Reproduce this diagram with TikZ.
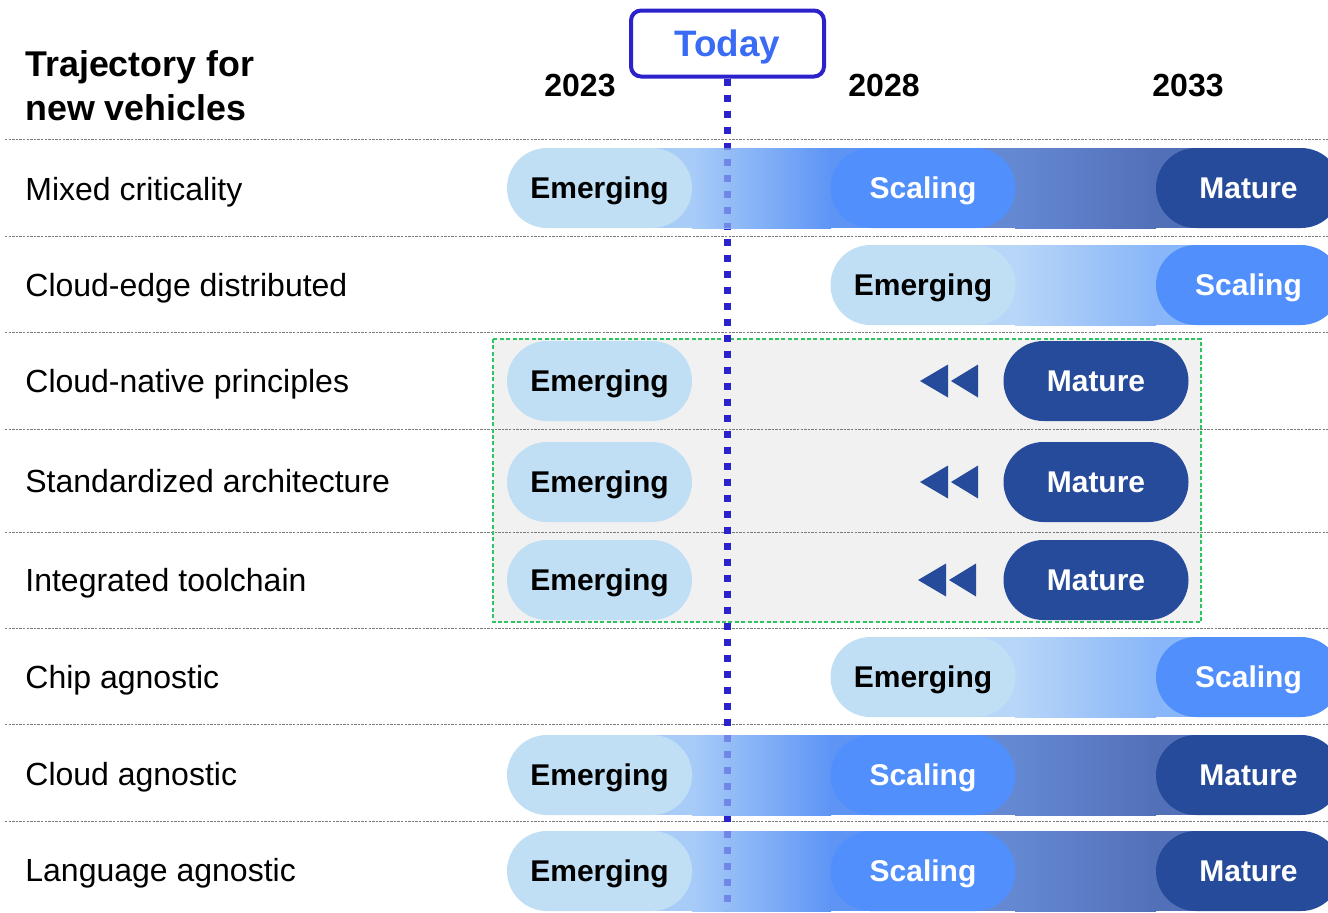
\documentclass[tikz,border=0pt]{standalone}
\usepackage{fontspec}
\setmainfont{Liberation Sans}
\definecolor{emfill}{HTML}{C0DFF5}
\definecolor{scfill}{HTML}{5190FC}
\definecolor{mafill}{HTML}{264B9A}
\definecolor{todayc}{HTML}{2B22CC}
\definecolor{todayt}{HTML}{3A6BF5}
\definecolor{sepc}{HTML}{7A7A7A}
\definecolor{boxg}{HTML}{2EC462}
\definecolor{boxfill}{HTML}{F1F1F1}
\definecolor{bandA}{HTML}{A8CCF8}
\definecolor{bandB}{HTML}{5E95F5}
\definecolor{bandC}{HTML}{6588D3}
\definecolor{bandD}{HTML}{5270B8}
\definecolor{bandE}{HTML}{B8D6F8}
\definecolor{bandF}{HTML}{88B6F8}
\tikzset{
  sepline/.style={draw=sepc, line width=0.5pt, dash pattern=on 1.2pt off 0.6pt},
  rowlabel/.style={anchor=west, inner sep=0pt, font=\fontsize{16}{19}\selectfont, text height=11.5pt, text depth=0pt},
  titletext/.style={anchor=base west, inner sep=0pt, font=\bfseries\fontsize{17.9}{21}\selectfont},
  yeartext/.style={inner sep=0pt, font=\bfseries\fontsize{16}{19}\selectfont, text height=11.5pt, text depth=0pt},
  pill/.style={minimum width=92.5pt, minimum height=40pt, rounded corners=20pt, inner sep=0pt,
    font=\bfseries\fontsize{15}{18}\selectfont, text height=10.7pt, text depth=0pt},
  emerging/.style={pill, fill=emfill, text=black},
  scaling/.style={pill, fill=scfill, text=white},
  mature/.style={pill, fill=mafill, text=white},
  todaybox/.style={draw=todayc, line width=2pt, rounded corners=5pt, fill=white,
    minimum width=96.5pt, minimum height=33pt, inner sep=0pt, text=todayt,
    text height=13pt, text depth=0pt,
    font=\bfseries\fontsize{18.4}{21}\selectfont},
  todayline/.style={draw=todayc, line width=3.5pt, dash pattern=on 3.5pt off 4.5pt},
  rewind/.style={fill=mafill},
}
\begin{document}
\begin{tikzpicture}[x=0.5pt,y=-0.5pt]
\useasboundingbox (0,0) rectangle (1328,912);
\clip (0,0) rectangle (1328,912);

% grey highlighted block
\path[fill=boxfill] (493,339) rectangle (1201,622);

% row separators
\foreach \yy in {139,236,332,429,532,628,724,821}
  \draw[sepline] (5,\yy) -- (1328,\yy);

% green dashed frame
\draw[boxg, line width=0.8pt, dash pattern=on 2pt off 1.2pt] (493,339) rectangle (1201,622);

% Today marker
\node[todaybox] (today) at (727.5,43.5) {Today};
\coordinate (todayend) at (727.5,912);
\draw[todayline] (today.south) -- (todayend);

% gradient bands (full trajectory rows)
\foreach \r in {188,775,871}{
  \shade[left color=bandA, right color=bandB] (692,\r-40) rectangle (831,\r+40);
  \fill[bandA] (623,\r-40) rectangle (693,\r+40);
  \fill[bandB] (830,\r-40) rectangle (960,\r+40);
  \shade[left color=bandC, right color=bandD] (1015,\r-40) rectangle (1156,\r+40);
  \fill[bandC] (959,\r-40) rectangle (1016,\r+40);
  \fill[bandD] (1155,\r-40) rectangle (1240,\r+40);
}
% gradient bands (late rows)
\foreach \r in {285,677}{
  \shade[left color=bandE, right color=bandF] (1015,\r-40) rectangle (1156,\r+40);
  \fill[bandE] (945,\r-40) rectangle (1016,\r+40);
  \fill[bandF] (1155,\r-40) rectangle (1250,\r+40);
}
% Today line seen through the bands
\begin{scope}
  \clip (700,148) rectangle (760,228)
        (700,735) rectangle (760,815)
        (700,831) rectangle (760,911);
  \draw[todayline, opacity=0.35] (today.south) -- (todayend);
\end{scope}

% title and years
\node[titletext] (title1) at (25,76) {Trajectory for};
\node[titletext] (title2) at (25,120) {new vehicles};
\node[yeartext] (y2023) at (580,85) {2023};
\node[yeartext] (y2028) at (884,85) {2028};
\node[yeartext] (y2033) at (1188,85) {2033};

% row labels
\node[rowlabel] (l1) at (25,189) {Mixed criticality};
\node[rowlabel] (l2) at (25,285) {Cloud-edge distributed};
\node[rowlabel] (l3) at (25,381) {Cloud-native principles};
\node[rowlabel] (l4) at (25,481) {Standardized architecture};
\node[rowlabel] (l5) at (25,580) {Integrated toolchain};
\node[rowlabel] (l6) at (25,677) {Chip agnostic};
\node[rowlabel] (l7) at (25,774) {Cloud agnostic};
\node[rowlabel] (l8) at (25,870) {Language agnostic};

% row 1
\node[emerging] (e1) at (599.5,188) {Emerging};
\node[scaling]  (s1) at (923,188) {Scaling};
\node[mature]   (m1) at (1248.5,188) {Mature};
% row 2
\node[emerging] (e2) at (923,285) {Emerging};
\node[scaling]  (s2) at (1248.5,285) {Scaling};
% rows 3-5
\node[emerging] (e3) at (599.5,381) {Emerging};
\node[mature]   (m3) at (1096,381) {Mature};
\node[emerging] (e4) at (599.5,482) {Emerging};
\node[mature]   (m4) at (1096,482) {Mature};
\node[emerging] (e5) at (599.5,580) {Emerging};
\node[mature]   (m5) at (1096,580) {Mature};
% row 6
\node[emerging] (e6) at (923,677) {Emerging};
\node[scaling]  (s6) at (1248.5,677) {Scaling};
% row 7
\node[emerging] (e7) at (599.5,775) {Emerging};
\node[scaling]  (s7) at (923,775) {Scaling};
\node[mature]   (m7) at (1248.5,775) {Mature};
% row 8
\node[emerging] (e8) at (599.5,871) {Emerging};
\node[scaling]  (s8) at (923,871) {Scaling};
\node[mature]   (m8) at (1248.5,871) {Mature};

% rewind arrows
\foreach \r/\dx in {381/0,482/0,580/-2}{
  \fill[rewind] (920+\dx,\r) -- (948+\dx,\r-16.5) -- (948+\dx,\r+16.5) -- cycle;
  \fill[rewind] (951+\dx,\r) -- (978+\dx,\r-16.5) -- (978+\dx,\r+16.5) -- cycle;
}
\end{tikzpicture}
\end{document}
